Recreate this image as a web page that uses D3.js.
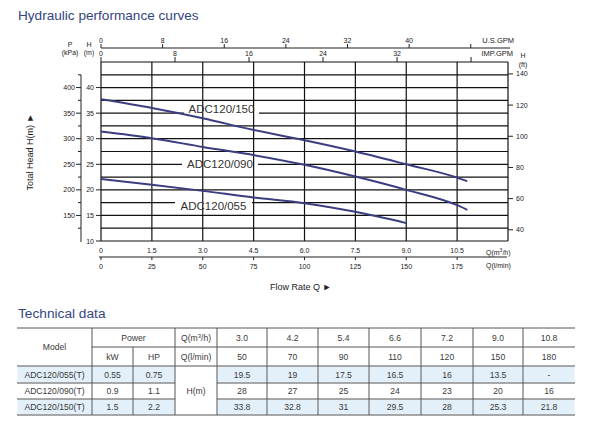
<!DOCTYPE html>
<html>
<head>
<meta charset="utf-8">
<script src="https://cdn.jsdelivr.net/npm/d3@7"></script>
<style>
  body { margin: 0; background: #fff; }
  svg { display: block; font-family: "Liberation Sans", Arial, sans-serif; }
</style>
</head>
<body>
<svg id="chart" width="591" height="429"></svg>
<script>
// curve readings (flow in m3/h, head in m)
const flow = [0, 1.5, 3.0, 4.5, 6.0, 7.5, 9.0, 10.5, 10.8];
const head150 = [37.7, 36.0, 34.0, 31.7, 29.7, 27.5, 25.0, 22.4, 21.7];
const head090 = [31.4, 30.1, 28.4, 26.8, 24.9, 22.6, 20.0, 17.0, 16.1];
const flow055 = [0, 1.5, 3.0, 4.5, 6.0, 7.5, 9.0];
const head055 = [22.1, 21.0, 19.8, 18.5, 17.4, 15.7, 13.5];
const curveNames = ['ADC120/150', 'ADC120/090', 'ADC120/055'];

// table
const models = ['ADC120/055(T)', 'ADC120/090(T)', 'ADC120/150(T)'];
const kW = ['0.55', '0.9', '1.5'];
const HP = ['0.75', '1.1', '2.2'];
const qM3 = ['3.0', '4.2', '5.4', '6.6', '7.2', '9.0', '10.8'];
const qLmin = ['50', '70', '90', '110', '120', '150', '180'];
const heads = [
    ['19.5', '19', '17.5', '16.5', '16', '13.5', '-'],
    ['28', '27', '25', '24', '23', '20', '16'],
    ['33.8', '32.8', '31', '29.5', '28', '25.3', '21.8']
];

const svg = d3.select('#chart');
const navy = '#3a3e80';
const titleBlue = '#34457f';
const ink = '#222';

const x = d3.scaleLinear().domain([0, 12]).range([101, 508]);
const y = d3.scaleLinear().domain([10, 45]).range([241, 62]);
const yP = d3.scaleLinear().domain([100, 450]).range([241, 62]);
const yFt = d3.scaleLinear().domain([10 / 0.3048, 45 / 0.3048]).range([241, 62]);
const xUS = d3.scaleLinear().domain([0, 12 * 4.4029]).range([101, 508]);
const xIMP = d3.scaleLinear().domain([0, 12 * 3.6662]).range([101, 508]);
const xL = d3.scaleLinear().domain([0, 200]).range([101, 508]);

svg.append('text').text('Hydraulic performance curves')
    .attr('x', 18).attr('y', 20)
    .style('font-size', '13.6px').style('fill', titleBlue);

// horizontal grid
const plot = svg.append('g');
plot.selectAll('line.h').data(d3.range(10, 45.1, 2.5)).enter().append('line')
    .attr('x1', x(0)).attr('x2', x(12))
    .attr('y1', d => y(d)).attr('y2', d => y(d))
    .style('stroke', '#111').style('stroke-width', 1.2);

// white gaps behind curve labels
const labelBox = [
    { name: curveNames[0], x0: 184, x1: 259, gy: 35, ty: 109 },
    { name: curveNames[1], x0: 182, x1: 258, gy: 25, ty: 164 },
    { name: curveNames[2], x0: 175, x1: 252, gy: 17.5, ty: 206 }
];
plot.selectAll('rect.gap').data(labelBox).enter().append('rect')
    .attr('x', d => d.x0).attr('width', d => d.x1 - d.x0)
    .attr('y', d => y(d.gy) - 2).attr('height', 4)
    .style('fill', '#fff');

// vertical grid
plot.selectAll('line.v').data(d3.range(0, 12.1, 1.5)).enter().append('line')
    .attr('y1', y(10)).attr('y2', y(45))
    .attr('x1', d => x(d)).attr('x2', d => x(d))
    .style('stroke', '#111').style('stroke-width', 1.2);

// curves
const line = d3.line().x(d => x(d[0])).y(d => y(d[1])).curve(d3.curveMonotoneX);
const series = [d3.zip(flow, head150), d3.zip(flow, head090), d3.zip(flow055, head055)];
svg.selectAll('path.curve').data(series).enter().append('path')
    .attr('d', line)
    .style('fill', 'none').style('stroke', navy).style('stroke-width', 2);

svg.selectAll('text.lbl').data(labelBox).enter().append('text')
    .text(d => d.name)
    .attr('x', d => (d.x0 + d.x1) / 2).attr('y', d => d.ty + 4)
    .attr('text-anchor', 'middle')
    .style('font-size', '11.5px').style('fill', '#333');

const small = '7px';

// left kPa axis
svg.append('line').attr('x1', 81).attr('x2', 81).attr('y1', yP(425)).attr('y2', yP(100) + 1)
    .style('stroke', ink);
svg.selectAll('line.pminor').data(d3.range(125, 426, 50)).enter().append('line')
    .attr('x1', 78).attr('x2', 81).attr('y1', d => yP(d)).attr('y2', d => yP(d))
    .style('stroke', ink);
svg.selectAll('line.pmajor').data(d3.range(150, 401, 50)).enter().append('line')
    .attr('x1', 76).attr('x2', 81).attr('y1', d => yP(d)).attr('y2', d => yP(d))
    .style('stroke', ink);
svg.selectAll('text.p').data(d3.range(150, 401, 50)).enter().append('text')
    .text(d => d).attr('x', 75).attr('y', d => yP(d) + 2.5)
    .attr('text-anchor', 'end').style('font-size', small).style('fill', ink);

// left H(m) axis
svg.selectAll('line.hm').data(d3.range(10, 41, 5)).enter().append('line')
    .attr('x1', 96).attr('x2', 101).attr('y1', d => y(d)).attr('y2', d => y(d))
    .style('stroke', ink);
svg.selectAll('text.hm').data(d3.range(10, 41, 5)).enter().append('text')
    .text(d => d).attr('x', 94).attr('y', d => y(d) + 2.5)
    .attr('text-anchor', 'end').style('font-size', small).style('fill', ink);

// right ft axis
svg.selectAll('line.ft').data(d3.range(40, 141, 20)).enter().append('line')
    .attr('x1', 508).attr('x2', 513).attr('y1', d => yFt(d)).attr('y2', d => yFt(d))
    .style('stroke', ink);
svg.selectAll('text.ft').data(d3.range(40, 141, 20)).enter().append('text')
    .text(d => d).attr('x', 516).attr('y', d => yFt(d) + 2.5)
    .style('font-size', small).style('fill', ink);

// unit captions
const caps = [
    { t: 'P', x: 70, y: 47 }, { t: '(kPa)', x: 70, y: 55 },
    { t: 'H', x: 89, y: 47 }, { t: '(m)', x: 89, y: 55 },
    { t: 'H', x: 523, y: 58 }, { t: '(ft)', x: 523, y: 67 }
];
svg.selectAll('text.cap').data(caps).enter().append('text')
    .text(d => d.t).attr('x', d => d.x).attr('y', d => d.y)
    .attr('text-anchor', 'middle').style('font-size', small).style('fill', ink);

// top US GPM axis
svg.append('line').attr('x1', 101).attr('x2', 510).attr('y1', 48).attr('y2', 48)
    .style('stroke', ink).style('stroke-width', 1.2);
const usTicks = d3.range(0, 49, 8);
svg.selectAll('line.us').data(usTicks).enter().append('line')
    .attr('x1', d => xUS(d)).attr('x2', d => xUS(d)).attr('y1', 44).attr('y2', 48)
    .style('stroke', ink);
svg.selectAll('text.us').data(usTicks.slice(0, -1)).enter().append('text')
    .text(d => d).attr('x', d => xUS(d)).attr('y', 43)
    .attr('text-anchor', 'middle').style('font-size', small).style('fill', ink);
svg.append('text').text('U.S.GPM').attr('x', 514).attr('y', 43)
    .attr('text-anchor', 'end').style('font-size', '7.5px').style('fill', ink);

// top IMP GPM axis
const impTicks = d3.range(0, 41, 8);
svg.selectAll('line.imp').data(impTicks).enter().append('line')
    .attr('x1', d => xIMP(d)).attr('x2', d => xIMP(d)).attr('y1', 57).attr('y2', 62)
    .style('stroke', ink);
svg.selectAll('text.imp').data(impTicks.slice(0, -1)).enter().append('text')
    .text(d => d).attr('x', d => xIMP(d)).attr('y', 56)
    .attr('text-anchor', 'middle').style('font-size', small).style('fill', ink);
svg.append('text').text('IMP.GPM').attr('x', 513).attr('y', 56)
    .attr('text-anchor', 'end').style('font-size', '7.5px').style('fill', ink);

// bottom m3/h labels
svg.selectAll('text.qm').data(d3.range(0, 10.6, 1.5)).enter().append('text')
    .text(d => d === 0 ? '0' : d.toFixed(1)).attr('x', d => x(d)).attr('y', 253)
    .attr('text-anchor', 'middle').style('font-size', small).style('fill', ink);
svg.append('text').attr('x', 486).attr('y', 255).style('font-size', small).style('fill', ink)
    .html('Q(m<tspan dy="-3" font-size="5">3</tspan><tspan dy="3">/h)</tspan>');

// bottom l/min axis
svg.append('line').attr('x1', 99).attr('x2', 507).attr('y1', 257).attr('y2', 257)
    .style('stroke', ink).style('stroke-width', 1.2);
const lTicks = d3.range(0, 176, 25);
svg.selectAll('line.lm').data(lTicks).enter().append('line')
    .attr('x1', d => xL(d)).attr('x2', d => xL(d)).attr('y1', 257).attr('y2', 260)
    .style('stroke', ink);
svg.selectAll('text.lm').data(lTicks).enter().append('text')
    .text(d => d).attr('x', d => xL(d)).attr('y', 269)
    .attr('text-anchor', 'middle').style('font-size', small).style('fill', ink);
svg.append('text').text('Q(l/min)').attr('x', 486).attr('y', 268)
    .style('font-size', small).style('fill', ink);

// axis titles
svg.append('text').text('Flow Rate Q \u25BA').attr('x', 270).attr('y', 290)
    .style('font-size', '9px').style('fill', ink);
svg.append('text').text('Total Head H(m) \u25BA')
    .attr('transform', 'translate(33,152) rotate(-90)')
    .attr('text-anchor', 'middle').style('font-size', '9px').style('fill', ink);

// ---------------- table ----------------
svg.append('text').text('Technical data')
    .attr('x', 18).attr('y', 318)
    .style('font-size', '13.7px').style('fill', titleBlue);

const colW = [75, 41, 42, 42, 50, 51, 51, 52, 52, 50, 52];
const colX = [17];
colW.forEach(w => colX.push(colX[colX.length - 1] + w));
const rowH = [19, 19, 17, 16, 16];
const rowY = [328];
rowH.forEach(h => rowY.push(rowY[rowY.length - 1] + h));
const tbl = svg.append('g').style('font-size', '8.6px');
const grey = '#555';

// shaded rows
[0, 2].forEach(r => {
    tbl.selectAll(null).data(d3.range(colW.length).filter(c => c !== 3)).enter().append('rect')
        .attr('x', c => colX[c] + 0.5).attr('width', c => colW[c] - 1)
        .attr('y', rowY[r + 2] + 0.5).attr('height', rowH[r + 2] - 1)
        .style('fill', '#e3eff9');
});

const hline = (y0, x0, x1) => tbl.append('line').attr('x1', x0).attr('x2', x1)
    .attr('y1', y0).attr('y2', y0).style('stroke', grey);
const vline = (x0, y0, y1) => tbl.append('line').attr('x1', x0).attr('x2', x0)
    .attr('y1', y0).attr('y2', y1).style('stroke', grey);
hline(rowY[0], colX[0], colX[11]);
hline(rowY[1], colX[1], colX[11]);
hline(rowY[2], colX[0], colX[11]);
hline(rowY[3], colX[0], colX[3]); hline(rowY[3], colX[4], colX[11]);
hline(rowY[4], colX[0], colX[3]); hline(rowY[4], colX[4], colX[11]);
hline(rowY[5], colX[0], colX[11]);
for (let c = 1; c < 11; c++) {
    vline(colX[c], c === 2 ? rowY[1] : rowY[0], rowY[5]);
}

const cell = (t, c0, c1, r0, r1) => tbl.append('text').text(t)
    .attr('x', (colX[c0] + colX[c1]) / 2).attr('y', (rowY[r0] + rowY[r1]) / 2 + 3)
    .attr('text-anchor', 'middle').style('fill', '#3a3a3a');

cell('Model', 0, 1, 0, 2);
cell('Power', 1, 3, 0, 1);
cell('kW', 1, 2, 1, 2);
cell('HP', 2, 3, 1, 2);
tbl.append('text').attr('x', (colX[3] + colX[4]) / 2).attr('y', (rowY[0] + rowY[1]) / 2 + 3)
    .attr('text-anchor', 'middle').style('fill', '#3a3a3a')
    .html('Q(m<tspan dy="-3" font-size="6">3</tspan><tspan dy="3">/h)</tspan>');
cell('Q(l/min)', 3, 4, 1, 2);
cell('H(m)', 3, 4, 2, 5);
qM3.forEach((q, i) => cell(q, 4 + i, 5 + i, 0, 1));
qLmin.forEach((q, i) => cell(q, 4 + i, 5 + i, 1, 2));
models.forEach((m, r) => {
    cell(m, 0, 1, 2 + r, 3 + r);
    cell(kW[r], 1, 2, 2 + r, 3 + r);
    cell(HP[r], 2, 3, 2 + r, 3 + r);
    heads[r].forEach((h, i) => cell(h, 4 + i, 5 + i, 2 + r, 3 + r));
});
</script>
</body>
</html>
